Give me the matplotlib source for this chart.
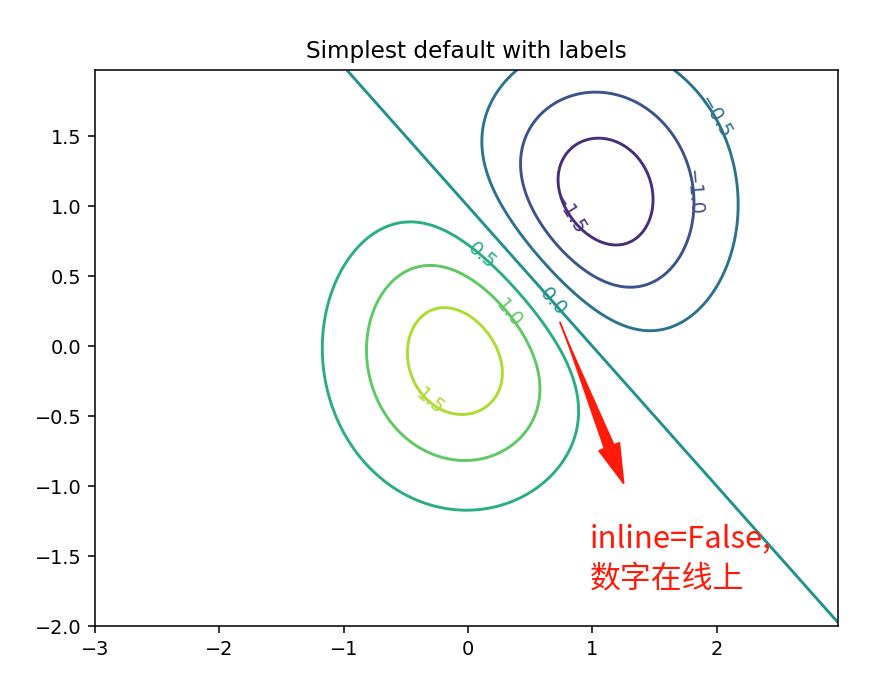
import numpy as np
import matplotlib
matplotlib.use("Agg")
import matplotlib.pyplot as plt

# grid and gaussian parameters (the classic contour demo)
delta = 0.025
x_range = [-3.0, 3.0]
y_range = [-2.0, 2.0]
center1 = [0.0, 0.0]
center2 = [1.0, 1.0]
scale = 2.0

x = np.arange(x_range[0], x_range[1], delta)
y = np.arange(y_range[0], y_range[1], delta)
X, Y = np.meshgrid(x, y)
Z1 = np.exp(-(X - center1[0])**2 - (Y - center1[1])**2)
Z2 = np.exp(-(X - center2[0])**2 - (Y - center2[1])**2)
Z = (Z1 - Z2) * scale

# approximate label positions
label_positions = [(0.84, 0.96), (1.86, 1.10), (2.03, 1.66), (0.73, 0.35),
                   (0.13, 0.67), (0.35, 0.25), (-0.28, -0.37)]

title = "Simplest default with labels"
note = "inline=False,\n数字在线上"
arrow_tail = [0.74, 0.17]
arrow_head = [1.26, -1.0]
red = "#ff1a0a"

dpi = 139
fig = plt.figure(figsize=(889 / dpi, 678 / dpi), dpi=dpi)
ax = fig.add_axes([95 / 889, 1 - 626 / 678, (838 - 95) / 889, (626 - 70) / 678])
CS = ax.contour(X, Y, Z)
ax.clabel(CS, inline=False, fontsize=10, manual=label_positions)
ax.set_title(title)

# tapered body: point at the tail, widening toward the head
ax.annotate("", xy=arrow_tail, xytext=arrow_head,
            arrowprops=dict(arrowstyle="wedge,tail_width=0.45,shrink_factor=0.5",
                            color=red, mutation_scale=15, shrinkA=14, shrinkB=0, lw=0))
# arrow head
ax.annotate("", xy=arrow_head, xytext=arrow_tail,
            arrowprops=dict(arrowstyle="-|>,head_length=1.0,head_width=0.28",
                            color=red, mutation_scale=20, shrinkA=0, shrinkB=0, lw=1))
ax.text(0.98, -1.52, note, color=red, fontsize=16, va="center", ha="left",
        family=["Noto Sans CJK SC", "DejaVu Sans"], linespacing=1.35)

fig.savefig("out.png", dpi=dpi)
